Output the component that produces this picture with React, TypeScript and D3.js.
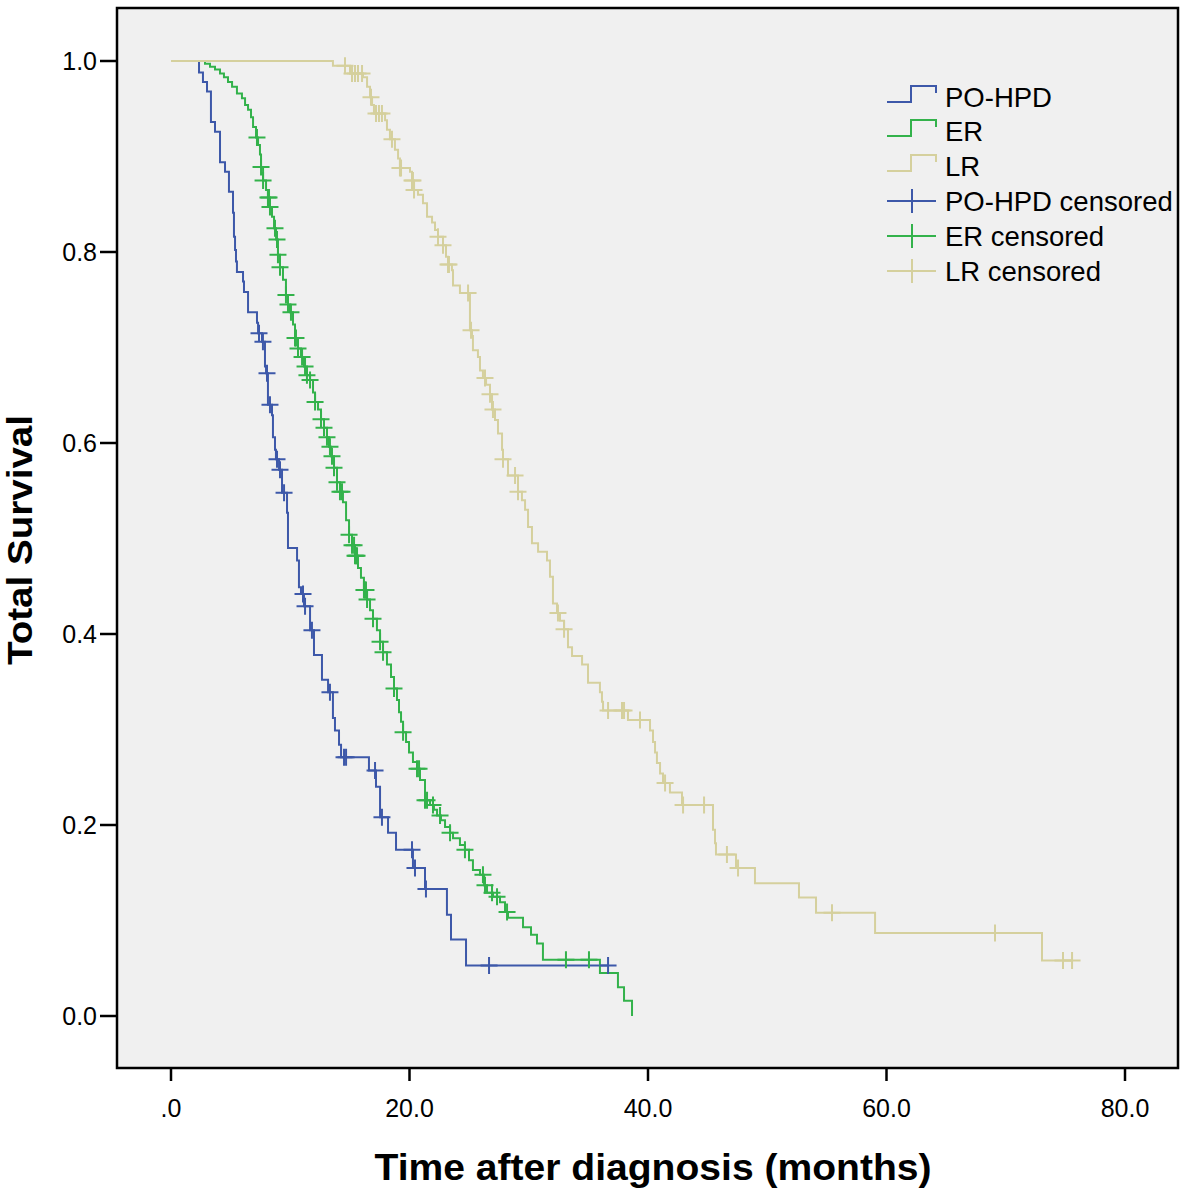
import React from "react";
import * as d3 from "d3";

// PO-HPD events: [time (months), survival after drop]
const poEvents: [number, number][] = [
  [2.35, 0.988], [2.68, 0.978], [3.02, 0.968], [3.35, 0.936], [3.69, 0.926], [4.11, 0.894],
  [4.53, 0.884], [4.86, 0.863], [5.2, 0.841], [5.28, 0.816], [5.37, 0.802], [5.45, 0.79],
  [5.53, 0.779], [6.04, 0.769], [6.12, 0.758], [6.46, 0.737], [7.21, 0.726], [7.3, 0.715],
  [7.63, 0.706], [7.88, 0.68], [7.97, 0.673], [8.13, 0.64], [8.47, 0.629], [8.55, 0.606],
  [8.72, 0.593], [8.8, 0.583], [9.06, 0.572], [9.31, 0.548], [9.73, 0.527], [9.81, 0.49],
  [10.57, 0.477], [10.73, 0.449], [10.9, 0.442], [11.15, 0.429], [11.66, 0.404], [11.99, 0.378],
  [12.66, 0.352], [13.17, 0.339], [13.58, 0.312], [13.75, 0.299], [14.09, 0.284], [14.26, 0.271],
  [16.6, 0.257], [17.19, 0.24], [17.53, 0.208], [18.2, 0.192], [18.87, 0.174], [20.29, 0.155],
  [21.3, 0.133], [23.14, 0.106], [23.48, 0.08], [24.74, 0.053],
];
const poCensored: number[] = [
  7.38, 7.71, 8.05, 8.3, 8.89, 9.14, 9.48, 11.07, 11.24, 11.82, 13.33, 14.51, 14.68, 17.11,
  17.69, 20.21, 20.46, 21.38, 26.67, 36.65,
];

const erEvents: [number, number][] = [
  [2.85, 0.997], [3.27, 0.994], [3.69, 0.991], [4.11, 0.987], [4.44, 0.983], [4.78, 0.978],
  [5.12, 0.973], [5.53, 0.966], [5.95, 0.961], [6.21, 0.954], [6.46, 0.949], [6.71, 0.941],
  [6.88, 0.931], [7.13, 0.92], [7.3, 0.912], [7.46, 0.902], [7.55, 0.889], [7.72, 0.875],
  [7.97, 0.865], [8.13, 0.857], [8.3, 0.847], [8.47, 0.837], [8.64, 0.825], [8.81, 0.813],
  [8.97, 0.797], [9.14, 0.784], [9.39, 0.771], [9.64, 0.755], [9.81, 0.745], [9.98, 0.737],
  [10.23, 0.724], [10.4, 0.71], [10.65, 0.699], [10.9, 0.69], [11.15, 0.68], [11.4, 0.671],
  [11.66, 0.666], [11.91, 0.653], [12.08, 0.643], [12.33, 0.635], [12.58, 0.625], [12.83, 0.616],
  [13.08, 0.606], [13.25, 0.596], [13.42, 0.586], [13.67, 0.574], [13.92, 0.559], [14.17, 0.549],
  [14.42, 0.538], [14.68, 0.519], [14.93, 0.504], [15.18, 0.493], [15.43, 0.482], [15.68, 0.469],
  [15.93, 0.459], [16.18, 0.446], [16.44, 0.436], [16.69, 0.425], [16.94, 0.416], [17.27, 0.404],
  [17.53, 0.392], [17.78, 0.381], [18.11, 0.368], [18.45, 0.355], [18.7, 0.343], [18.95, 0.331],
  [19.12, 0.318], [19.29, 0.308], [19.46, 0.297], [19.71, 0.287], [19.96, 0.276], [20.29, 0.266],
  [20.63, 0.259], [20.88, 0.247], [21.3, 0.226], [21.72, 0.221], [22.05, 0.216], [22.31, 0.21],
  [22.64, 0.205], [22.98, 0.198], [23.4, 0.192], [23.65, 0.186], [24.23, 0.179], [24.65, 0.174],
  [24.99, 0.163], [25.32, 0.153], [25.91, 0.148], [26.25, 0.137], [26.5, 0.129], [27.0, 0.125],
  [27.59, 0.119], [28.01, 0.109], [28.26, 0.103], [29.52, 0.093], [30.19, 0.085], [30.69, 0.076],
  [31.19, 0.059], [35.97, 0.045], [37.48, 0.03], [37.99, 0.016], [38.66, 0.0],
];
const erCensored: number[] = [
  7.21, 7.55, 7.72, 8.13, 8.22, 8.3, 8.72, 8.89, 8.97, 9.14, 9.64, 9.81, 10.06, 10.4, 10.48,
  10.65, 10.99, 11.24, 11.4, 11.66, 12.08, 12.58, 12.83, 13.08, 13.33, 13.5, 13.67, 13.92, 14.17,
  14.34, 14.93, 15.18, 15.35, 15.43, 15.51, 15.6, 16.18, 16.27, 16.35, 16.44, 16.94, 17.53, 17.78,
  18.7, 19.46, 20.63, 20.8, 21.3, 21.47, 21.97, 22.56, 23.4, 24.65, 26.16, 26.33, 26.92, 27.34,
  28.18, 33.12, 35.05,
];

const lrEvents: [number, number][] = [
  [13.58, 0.995], [15.01, 0.987], [16.1, 0.983], [16.44, 0.973], [16.69, 0.962], [16.86, 0.954],
  [17.02, 0.945], [17.95, 0.938], [18.11, 0.928], [18.36, 0.918], [18.78, 0.907], [19.04, 0.898],
  [19.2, 0.888], [20.04, 0.884], [20.21, 0.875], [20.38, 0.865], [20.71, 0.86], [21.13, 0.851],
  [21.47, 0.837], [21.89, 0.831], [22.14, 0.823], [22.39, 0.816], [22.81, 0.807], [23.06, 0.795],
  [23.23, 0.787], [23.56, 0.781], [23.65, 0.765], [24.23, 0.757], [25.07, 0.718], [25.24, 0.712],
  [25.32, 0.697], [25.74, 0.69], [25.91, 0.676], [26.16, 0.668], [26.42, 0.661], [26.75, 0.651],
  [26.92, 0.635], [27.17, 0.624], [27.42, 0.61], [27.76, 0.593], [27.84, 0.583], [28.26, 0.566],
  [29.1, 0.549], [29.43, 0.54], [29.69, 0.53], [29.94, 0.512], [30.27, 0.495], [30.78, 0.486],
  [31.53, 0.477], [31.78, 0.46], [32.03, 0.432], [32.37, 0.422], [32.62, 0.414], [32.96, 0.405],
  [33.29, 0.386], [33.63, 0.377], [34.47, 0.368], [34.97, 0.349], [35.97, 0.339], [36.14, 0.329],
  [36.23, 0.32], [38.32, 0.31], [40.17, 0.299], [40.42, 0.287], [40.59, 0.276], [40.75, 0.265],
  [41.01, 0.254], [41.26, 0.244], [41.84, 0.234], [42.85, 0.221], [45.45, 0.195], [45.62, 0.181],
  [45.7, 0.169], [47.38, 0.155], [48.97, 0.139], [52.66, 0.124], [54.09, 0.108], [59.04, 0.087],
  [73.04, 0.058],
];
const lrCensored: number[] = [
  14.59, 15.18, 15.43, 15.68, 16.02, 16.77, 17.19, 17.44, 17.69, 18.53, 19.2, 19.29, 20.21, 20.29,
  20.38, 22.39, 22.81, 23.23, 23.31, 24.91, 25.16, 26.33, 26.75, 27.0, 27.84, 28.85, 29.1, 32.45,
  32.96, 36.65, 37.82, 37.99, 39.33, 41.43, 42.94, 44.7, 46.62, 47.55, 55.43, 69.1, 74.8, 75.56,
];

const groupNames = ["PO-HPD", "ER", "LR"];
const groupColors = ["#3d58a9", "#33b24b", "#d5d09d"];
const xTicks = [0, 20, 40, 60, 80];
const xTickLabels = [".0", "20.0", "40.0", "60.0", "80.0"];
const yTicks = [0, 0.2, 0.4, 0.6, 0.8, 1.0];
const yTickLabels = ["0.0", "0.2", "0.4", "0.6", "0.8", "1.0"];

const FONT = "'Liberation Sans', Arial, Helvetica, sans-serif";

function survivalAt(events: [number, number][], t: number) {
  let s = 1;
  for (const [et, es] of events) {
    if (et <= t + 1e-9) s = es;
    else break;
  }
  return s;
}

export default function App() {
  const W = 1184, H = 1188;
  const frame = { l: 117, r: 1178, t: 8, b: 1068 };
  const x = d3.scaleLinear().domain([0, 80]).range([171, 1125]);
  const y = d3.scaleLinear().domain([0, 1]).range([1016, 61]);
  const line = d3
    .line<[number, number]>()
    .x((d) => x(d[0]))
    .y((d) => y(d[1]))
    .curve(d3.curveStepAfter);

  const groups = [
    { events: poEvents, censored: poCensored },
    { events: erEvents, censored: erCensored },
    { events: lrEvents, censored: lrCensored },
  ];

  const paths = groups.map((g) => {
    const lastEvent = g.events[g.events.length - 1];
    const lastCens = g.censored.length ? g.censored[g.censored.length - 1] : 0;
    const endT = Math.max(lastEvent[0], lastCens);
    const pts: [number, number][] = [[0, 1], ...g.events];
    if (endT > lastEvent[0]) pts.push([endT, lastEvent[1]]);
    return line(pts) || "";
  });

  const hw = 8.5;
  const crossPath = (cx: number, cy: number, h = hw, v = hw) =>
    `M${cx - h},${cy}H${cx + h}M${cx},${cy - v}V${cy + v}`;

  const legendX = 887;
  const legendRows = [97, 131, 166, 201, 236, 271];

  return (
    <svg
      width={W}
      height={H}
      style={{ position: "absolute", left: 0, top: 0, background: "#fff" }}
      fontFamily={FONT}
    >
      <rect x={0} y={0} width={W} height={H} fill="#fff" />
      <rect
        x={frame.l}
        y={frame.t}
        width={frame.r - frame.l}
        height={frame.b - frame.t}
        fill="#f0f0f0"
        stroke="#000"
        strokeWidth={2.5}
      />
      {/* y ticks */}
      {yTicks.map((v, i) => (
        <g key={"yt" + i}>
          <line x1={100} x2={frame.l} y1={y(v)} y2={y(v)} stroke="#000" strokeWidth={2.5} />
          <text x={97} y={y(v)} dy="0.36em" textAnchor="end" fontSize={25} fill="#000">
            {yTickLabels[i]}
          </text>
        </g>
      ))}
      {/* x ticks */}
      {xTicks.map((v, i) => (
        <g key={"xt" + i}>
          <line x1={x(v)} x2={x(v)} y1={frame.b} y2={frame.b + 13} stroke="#000" strokeWidth={2.5} />
          <text x={x(v)} y={1117} textAnchor="middle" fontSize={25} fill="#000">
            {xTickLabels[i]}
          </text>
        </g>
      ))}
      {/* axis titles */}
      <text
        x={653}
        y={1180}
        textAnchor="middle"
        fontSize={36}
        fontWeight="bold"
        fill="#000"
        textLength={557}
        lengthAdjust="spacingAndGlyphs"
      >
        Time after diagnosis (months)
      </text>
      <text
        transform={`translate(32,540) rotate(-90)`}
        textAnchor="middle"
        fontSize={35}
        fontWeight="bold"
        fill="#000"
        textLength={250}
        lengthAdjust="spacingAndGlyphs"
      >
        Total Survival
      </text>
      {/* curves */}
      {paths.map((p, i) => (
        <path key={"p" + i} d={p} fill="none" stroke={groupColors[i]} strokeWidth={2} />
      ))}
      {/* censor marks */}
      {groups.map((g, i) =>
        g.censored.map((t, j) => (
          <path
            key={`c${i}-${j}`}
            d={crossPath(x(t), y(survivalAt(g.events, t)))}
            fill="none"
            stroke={groupColors[i]}
            strokeWidth={2}
          />
        ))
      )}
      {/* legend */}
      {groupNames.map((name, i) => {
        const cy = legendRows[i];
        const d = `M${legendX},${cy + 5}H${legendX + 24}V${cy - 11}H${legendX + 49}V${cy - 4}`;
        return (
          <g key={"l" + i}>
            <path d={d} fill="none" stroke={groupColors[i]} strokeWidth={2} />
            <text x={945} y={cy} dy="0.36em" fontSize={27.5} fill="#000">
              {name}
            </text>
          </g>
        );
      })}
      {groupNames.map((name, i) => {
        const cy = legendRows[i + 3];
        return (
          <g key={"lc" + i}>
            <path
              d={`M${legendX},${cy}H${legendX + 49}M${legendX + 25},${cy - 12}V${cy + 12}`}
              fill="none"
              stroke={groupColors[i]}
              strokeWidth={2}
            />
            <text x={945} y={cy} dy="0.36em" fontSize={27.5} fill="#000">
              {name + " censored"}
            </text>
          </g>
        );
      })}
    </svg>
  );
}
